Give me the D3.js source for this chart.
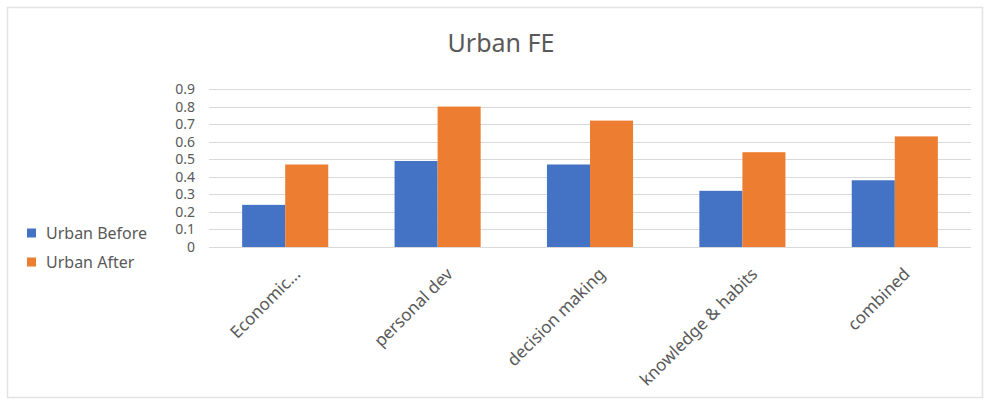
<!DOCTYPE html>
<html>
<head>
<meta charset="utf-8">
<script src="https://cdn.jsdelivr.net/npm/d3@7"></script>
<style>
  html, body { margin: 0; padding: 0; background: #fff; }
  svg { display: block; font-family: "Noto Sans", "Open Sans", sans-serif; }
</style>
</head>
<body>
<svg id="chart" width="987" height="402"></svg>
<script>
// Chart content
const chartTitle = "Urban FE";
const categories = ["Economic...", "personal dev", "decision making", "knowledge & habits", "combined"];
const seriesNames = ["Urban Before", "Urban After"];
const urbanBefore = [0.24, 0.49, 0.47, 0.32, 0.38];
const urbanAfter = [0.47, 0.80, 0.72, 0.54, 0.63];
const yTicks = [0, 0.1, 0.2, 0.3, 0.4, 0.5, 0.6, 0.7, 0.8, 0.9];
const seriesColors = ["#4472C4", "#ED7D31"];

const seriesValues = [urbanBefore, urbanAfter];
const textColor = "#595959";
const svg = d3.select("#chart");

// Chart area border
svg.append("rect")
  .attr("x", 7.5).attr("y", 7.5)
  .attr("width", 975).attr("height", 390)
  .attr("fill", "#fff")
  .attr("stroke", "#e3e3e3")
  .attr("stroke-width", 1.5);

const plot = { left: 209, right: 971, top: 89, bottom: 247 };

const x = d3.scaleBand()
  .domain(categories)
  .range([plot.left, plot.right])
  .paddingInner(0.435)
  .paddingOuter(0.2175);

const xs = d3.scaleBand()
  .domain(seriesNames)
  .range([0, x.bandwidth()]);

const y = d3.scaleLinear()
  .domain([0, 0.9])
  .range([plot.bottom, plot.top]);

// Horizontal gridlines
svg.append("g")
  .selectAll("line")
  .data(yTicks)
  .join("line")
  .attr("x1", plot.left).attr("x2", plot.right)
  .attr("y1", d => Math.round(y(d)) + 0.5)
  .attr("y2", d => Math.round(y(d)) + 0.5)
  .attr("stroke", "#d9d9d9")
  .attr("stroke-width", 1);

// Y axis labels
const yAxis = d3.axisLeft(y)
  .tickValues(yTicks)
  .tickFormat(d => d === 0 ? "0" : d3.format(".1f")(d))
  .tickSize(0)
  .tickPadding(0);

const yg = svg.append("g")
  .attr("transform", `translate(${plot.left - 14},0)`)
  .call(yAxis);
yg.select(".domain").remove();
yg.selectAll("text")
  .attr("fill", textColor)
  .attr("font-size", 14)
  .attr("font-family", "Noto Sans, sans-serif");

// Bars
const groups = svg.append("g")
  .selectAll("g")
  .data(categories)
  .join("g")
  .attr("transform", d => `translate(${x(d)},0)`);

groups.selectAll("rect")
  .data((d, i) => seriesNames.map((s, j) => ({ series: s, value: seriesValues[j][i], color: seriesColors[j] })))
  .join("rect")
  .attr("x", d => xs(d.series))
  .attr("width", xs.bandwidth())
  .attr("y", d => y(d.value))
  .attr("height", d => y(0) - y(d.value))
  .attr("fill", d => d.color);

// X axis category labels, rotated
const xAxis = d3.axisBottom(x).tickSize(0).tickPadding(0);
const xg = svg.append("g")
  .attr("transform", `translate(0,${plot.bottom})`)
  .call(xAxis);
xg.select(".domain").remove();
xg.selectAll("text")
  .attr("fill", textColor)
  .attr("font-size", 17)
  .attr("font-family", "Noto Sans, sans-serif")
  .attr("text-anchor", "end")
  .attr("y", 0)
  .attr("dy", "0.35em")
  .attr("transform", "translate(12,24) rotate(-45)");

// Title
svg.append("text")
  .attr("x", 501).attr("y", 52)
  .attr("text-anchor", "middle")
  .attr("fill", textColor)
  .attr("font-size", 25)
  .text(chartTitle);

// Legend
const legend = svg.append("g")
  .selectAll("g")
  .data(seriesNames)
  .join("g")
  .attr("transform", (d, i) => `translate(27,${233 + i * 29})`);

legend.append("rect")
  .attr("x", 0).attr("y", -4.5)
  .attr("width", 9).attr("height", 9)
  .attr("fill", (d, i) => seriesColors[i]);

legend.append("text")
  .attr("x", 19).attr("y", 0)
  .attr("dy", "0.35em")
  .attr("fill", textColor)
  .attr("font-size", 16)
  .text(d => d);
</script>
</body>
</html>
